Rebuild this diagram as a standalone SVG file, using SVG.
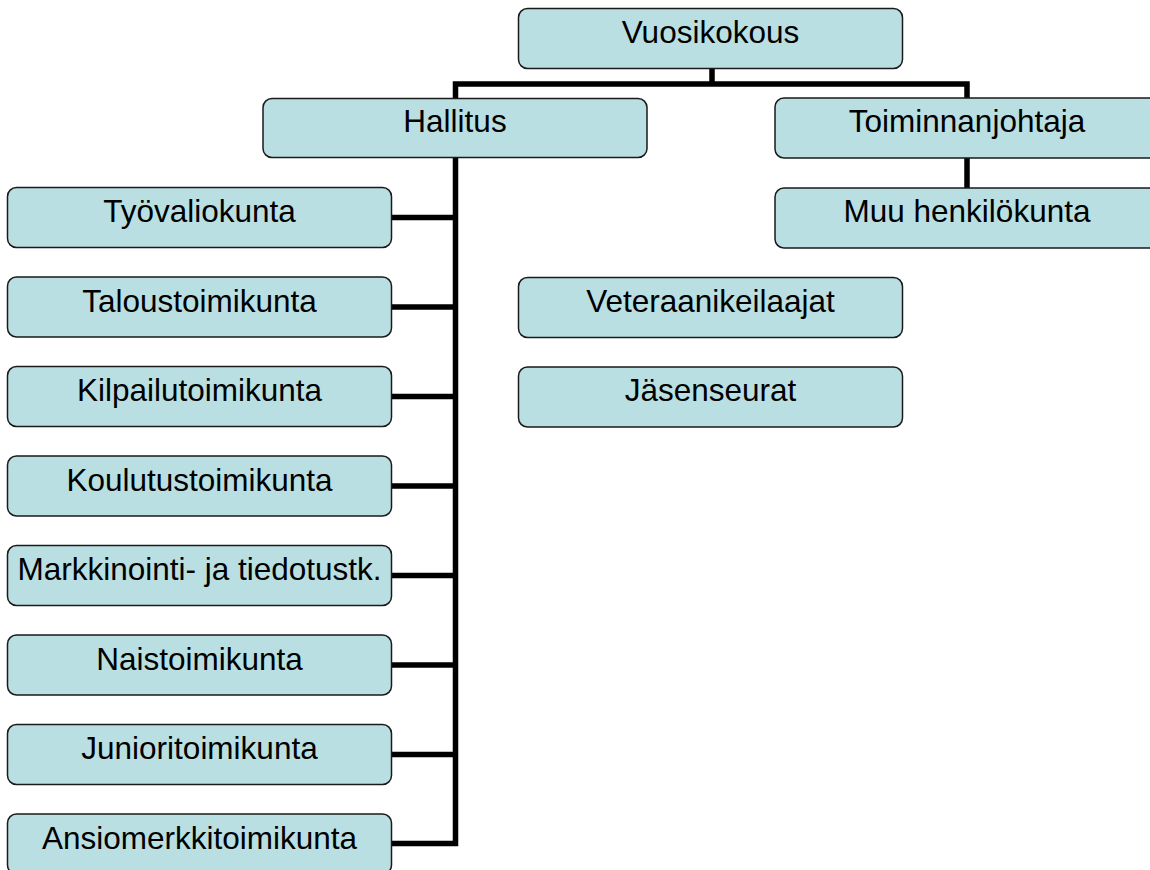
<svg xmlns="http://www.w3.org/2000/svg" width="1150" height="870" viewBox="0 0 1150 870">
<style>
.box{fill:#B9DFE2;stroke:#1a1a1a;stroke-width:1.5}
.lbl{font-family:"Liberation Sans",Arial,sans-serif;font-size:31.5px;fill:#000;text-anchor:middle}
.ln{fill:none;stroke:#000;stroke-width:5.5;stroke-linecap:butt;stroke-linejoin:miter}
</style>
<rect width="1150" height="870" fill="#fff"/>
<g id="connectors">
<path class="ln" d="M712,68.5 V84 M455.5,98.5 V84 H967 V98"/>
<path class="ln" d="M967,158 V188"/>
<path class="ln" d="M455.5,157.5 V843.5 H391.5"/>
<path class="ln" d="M391.5,217.5 H455.5 M391.5,307 H455.5 M391.5,396.5 H455.5 M391.5,486 H455.5 M391.5,575.5 H455.5 M391.5,665 H455.5 M391.5,754.5 H455.5"/>
</g>
<g id="n-vuosikokous"><rect class="box" x="518.5" y="8.5" width="384" height="60" rx="9"/><text class="lbl" x="710.5" y="42.5">Vuosikokous</text></g>
<g id="n-hallitus"><rect class="box" x="263" y="98.5" width="384" height="59" rx="9"/><text class="lbl" x="455" y="132">Hallitus</text></g>
<g id="n-toiminnanjohtaja"><rect class="box" x="775" y="98" width="384" height="60" rx="9"/><text class="lbl" x="967" y="131.5">Toiminnanjohtaja</text></g>
<g id="n-muu"><rect class="box" x="775" y="188" width="384" height="60" rx="9"/><text class="lbl" x="967" y="222">Muu henkilökunta</text></g>
<g id="n-veteraanikeilaajat"><rect class="box" x="518.5" y="277.5" width="384" height="60" rx="9"/><text class="lbl" x="710.5" y="311.5">Veteraanikeilaajat</text></g>
<g id="n-jasenseurat"><rect class="box" x="518.5" y="367" width="384" height="60" rx="9"/><text class="lbl" x="710.5" y="401">Jäsenseurat</text></g>
<g id="n-tyovaliokunta"><rect class="box" x="7.5" y="187.5" width="384" height="60" rx="9"/><text class="lbl" x="199.5" y="222">Työvaliokunta</text></g>
<g id="n-taloustoimikunta"><rect class="box" x="7.5" y="277" width="384" height="60" rx="9"/><text class="lbl" x="199.5" y="311.5">Taloustoimikunta</text></g>
<g id="n-kilpailutoimikunta"><rect class="box" x="7.5" y="366.5" width="384" height="60" rx="9"/><text class="lbl" x="199.5" y="401">Kilpailutoimikunta</text></g>
<g id="n-koulutustoimikunta"><rect class="box" x="7.5" y="456" width="384" height="60" rx="9"/><text class="lbl" x="199.5" y="490.5">Koulutustoimikunta</text></g>
<g id="n-markkinointi"><rect class="box" x="7.5" y="545.5" width="384" height="60" rx="9"/><text class="lbl" x="199.5" y="580">Markkinointi- ja tiedotustk.</text></g>
<g id="n-naistoimikunta"><rect class="box" x="7.5" y="635" width="384" height="60" rx="9"/><text class="lbl" x="199.5" y="669.5">Naistoimikunta</text></g>
<g id="n-junioritoimikunta"><rect class="box" x="7.5" y="724.5" width="384" height="60" rx="9"/><text class="lbl" x="199.5" y="759">Junioritoimikunta</text></g>
<g id="n-ansiomerkkitoimikunta"><rect class="box" x="7.5" y="814" width="384" height="60" rx="9"/><text class="lbl" x="199.5" y="848.5">Ansiomerkkitoimikunta</text></g>
</svg>
